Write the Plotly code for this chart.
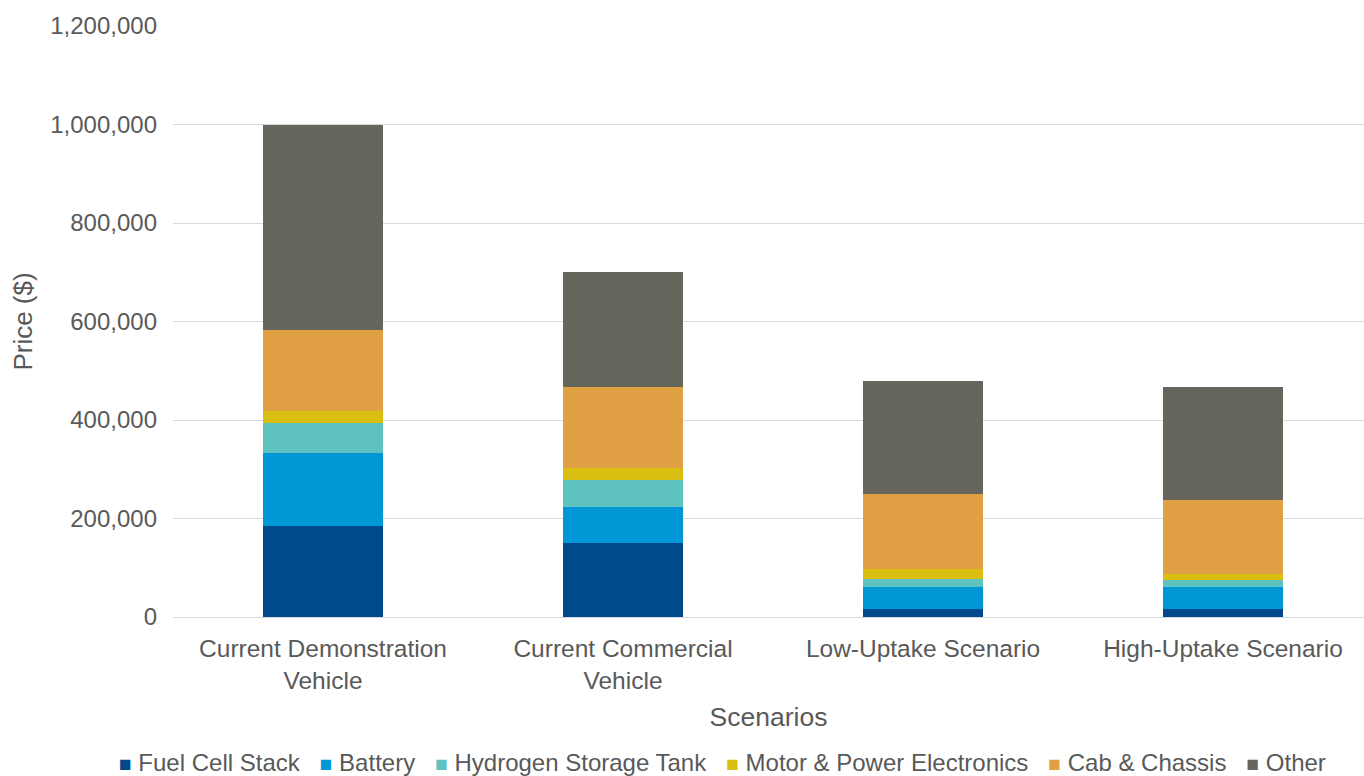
import plotly.graph_objects as go

categories = ["Current Demonstration<br>Vehicle", "Current Commercial<br>Vehicle",
              "Low-Uptake Scenario", "High-Uptake Scenario"]
series_names = ["Fuel Cell Stack", "Battery", "Hydrogen Storage Tank",
                "Motor & Power Electronics", "Cab & Chassis", "Other"]
fuel_cell = [184000, 150000, 16000, 16000]
battery = [149000, 74000, 44000, 44000]
hydrogen_tank = [61000, 54000, 17000, 16000]
motor_power = [24000, 25000, 21000, 12000]
cab_chassis = [165000, 165000, 152000, 150000]
other = [417000, 232000, 230000, 230000]
colors = ["#00498C", "#0097D6", "#5EC2BE", "#DBBE12", "#E2A045", "#66665C"]

values = [fuel_cell, battery, hydrogen_tank, motor_power, cab_chassis, other]

fig = go.Figure()
for name, vals, col in zip(series_names, values, colors):
    fig.add_trace(go.Bar(name=name, x=categories, y=vals, marker_color=col,
                         marker_line_width=0, showlegend=False))

font_col = "#595959"

# legend drawn as a single centered text line with coloured squares
legend_parts = []
for name, col in zip(series_names, colors):
    legend_parts.append(
        f"<span style='color:{col};font-size:21px'>■</span>&nbsp;{name}")
legend_text = "&nbsp;&nbsp;&nbsp;".join(legend_parts)

fig.update_layout(
    barmode="stack",
    bargap=0.6,
    width=1364, height=776,
    margin=dict(l=173, r=0, t=26, b=159, autoexpand=False),
    plot_bgcolor="white", paper_bgcolor="white",
    font=dict(family="Liberation Sans, Arial", size=24, color=font_col),
    xaxis=dict(title=dict(text="Scenarios", font=dict(size=26.5), standoff=14),
               range=[-0.5, 3.47], showline=True, linecolor="#d9d9d9", linewidth=1,
               tickfont=dict(size=24.5), ticks="", ticklabelstandoff=10),
    yaxis=dict(title=dict(text="Price ($)", font=dict(size=26), standoff=10),
               range=[0, 1200000], dtick=200000, tickformat=",",
               gridcolor="#d9d9d9", gridwidth=1, zeroline=False,
               tickfont=dict(size=24), ticklabelstandoff=15),
    annotations=[dict(text=legend_text, xref="paper", yref="paper",
                      x=0.461, y=-0.247, xanchor="center", yanchor="middle",
                      showarrow=False, font=dict(size=24, color=font_col))],
)

fig.write_html("out.html")
